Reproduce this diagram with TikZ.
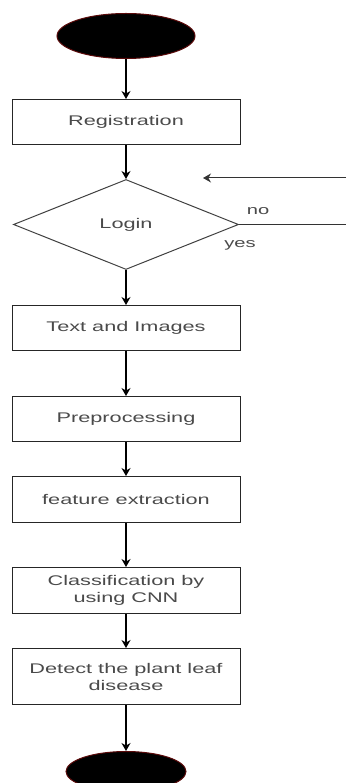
\documentclass[tikz,border=0pt]{standalone}
\usepackage{fontspec}
\usepackage{xcolor}
\usepackage{tikz}
\usetikzlibrary{arrows.meta, positioning, shapes.geometric}
\newfontfamily\flowfont[FakeStretch=1.55]{Liberation Sans}
\definecolor{labelgray}{HTML}{4A4A4A}
\definecolor{rimred}{HTML}{5A0A0A}

\begin{document}
\begin{tikzpicture}[
  x=1pt, y=1pt,
  terminal/.style={ellipse, fill=black, draw=rimred, line width=1pt, inner sep=0pt},
  process/.style={rectangle, draw=black!85, line width=1pt, inner sep=0pt,
                  minimum width=228pt, minimum height=45pt, align=center,
                  font=\flowfont\fontsize{14}{17}\selectfont, text=labelgray},
  decision/.style={diamond, draw=black!75, line width=1pt, inner sep=0pt,
                   minimum width=225pt, minimum height=90pt,
                   font=\flowfont\fontsize{14}{17}\selectfont, text=labelgray},
  tag/.style={font=\flowfont\fontsize{13}{15}\selectfont, text=labelgray},
  arr/.style={-{Stealth[length=8pt, width=9pt]}, line width=1.1pt, black},
  ln/.style={line width=1pt, black!80},
]
\useasboundingbox (0,0) rectangle (346,-783);

% Start
\node[terminal, minimum width=138pt, minimum height=45pt] (start) at (126,-36) {};

% Registration and login
\node[process, below=40pt of start] (reg) {Registration};
\node[decision, below=34pt of reg] (login) {Login};
\node[tag] (no) at (258,-211) {no};
\node[tag] (yes) at (240,-245) {yes};

% Processing steps
\node[process, below=35pt of login] (text) {Text and Images};
\node[process, below=45pt of text] (pre) {Preprocessing};
\node[process, minimum height=46pt, below=34pt of pre] (feat) {feature extraction};
\node[process, minimum height=46pt, below=44pt of feat] (cls) {Classification by\\using CNN};
\node[process, minimum height=56pt, below=34pt of cls] (det) {Detect the plant leaf\\disease};

% Stop
\node[terminal, minimum width=120pt, minimum height=40pt, below=46pt of det] (stop) {};

% Forward arrows
\draw[arr] (start) -- (reg);
\draw[arr] (reg) -- (login);
\draw[arr] (login) -- (text);
\draw[arr] (text) -- (pre);
\draw[arr] (pre) -- (feat);
\draw[arr] (feat) -- (cls);
\draw[arr] (cls) -- (det);
\draw[arr] (det) -- (stop);

% Retry branch
\coordinate (edge) at (346,0);
\coordinate (backend) at (203,-178);
\draw[ln] (login.east) -- (login.east -| edge);
\draw[arr, black!80, line width=1pt] (backend -| edge) -- (backend);

\end{tikzpicture}
\end{document}
